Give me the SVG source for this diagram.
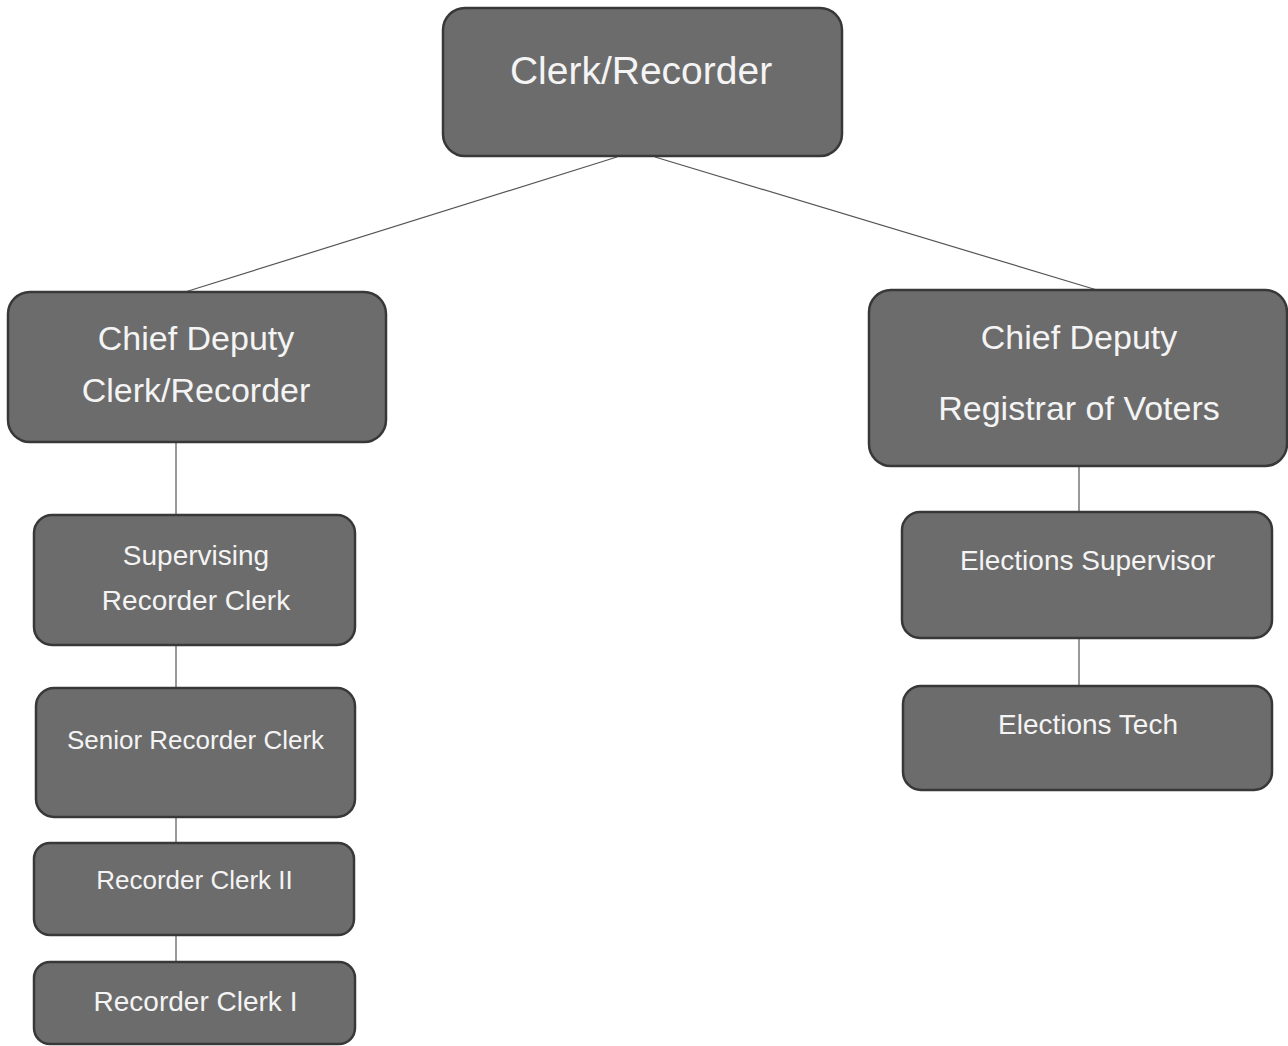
<svg xmlns="http://www.w3.org/2000/svg" width="1288" height="1046" viewBox="0 0 1288 1046">
<style>
.box{fill:#6c6c6c;stroke:#383838;stroke-width:2.5}
.t{font-family:"Liberation Sans",Arial,sans-serif;fill:#f4f4f4;text-anchor:middle}
.c{stroke:#555;stroke-width:1.2;fill:none}
</style>
<rect width="1288" height="1046" fill="#fff"/>
<g id="connectors">
<line class="c" x1="617" y1="157" x2="185" y2="292"/>
<line class="c" x1="655" y1="157" x2="1097" y2="290"/>
<line class="c" x1="176" y1="442" x2="176" y2="515"/>
<line class="c" x1="176" y1="645" x2="176" y2="688"/>
<line class="c" x1="176" y1="817" x2="176" y2="843"/>
<line class="c" x1="176" y1="935" x2="176" y2="962"/>
<line class="c" x1="1079" y1="466" x2="1079" y2="512"/>
<line class="c" x1="1079" y1="638" x2="1079" y2="686"/>
</g>
<g id="clerk-recorder">
<rect class="box" x="443" y="8" width="399" height="148" rx="22"/>
<text class="t" x="641" y="84" font-size="39">Clerk/Recorder</text>
</g>
<g id="chief-deputy-clerk">
<rect class="box" x="8" y="292" width="378" height="150" rx="22"/>
<text class="t" x="196" y="350" font-size="34">Chief Deputy</text>
<text class="t" x="196" y="402" font-size="34">Clerk/Recorder</text>
</g>
<g id="chief-deputy-registrar">
<rect class="box" x="869" y="290" width="418" height="176" rx="22"/>
<text class="t" x="1079" y="349" font-size="34">Chief Deputy</text>
<text class="t" x="1079" y="420" font-size="34">Registrar of Voters</text>
</g>
<g id="supervising-recorder-clerk">
<rect class="box" x="34" y="515" width="321" height="130" rx="18"/>
<text class="t" x="196" y="565" font-size="28">Supervising</text>
<text class="t" x="196" y="610" font-size="28">Recorder Clerk</text>
</g>
<g id="senior-recorder-clerk">
<rect class="box" x="36" y="688" width="319" height="129" rx="18"/>
<text class="t" x="195.5" y="749" font-size="26">Senior Recorder Clerk</text>
</g>
<g id="recorder-clerk-2">
<rect class="box" x="34" y="843" width="320" height="92" rx="16"/>
<text class="t" x="194.5" y="889" font-size="26">Recorder Clerk II</text>
</g>
<g id="recorder-clerk-1">
<rect class="box" x="34" y="962" width="321" height="82" rx="16"/>
<text class="t" x="195.5" y="1011" font-size="28">Recorder Clerk I</text>
</g>
<g id="elections-supervisor">
<rect class="box" x="902" y="512" width="370" height="126" rx="18"/>
<text class="t" x="1087.5" y="570" font-size="28">Elections Supervisor</text>
</g>
<g id="elections-tech">
<rect class="box" x="903" y="686" width="369" height="104" rx="18"/>
<text class="t" x="1088" y="734" font-size="28">Elections Tech</text>
</g>
</svg>
